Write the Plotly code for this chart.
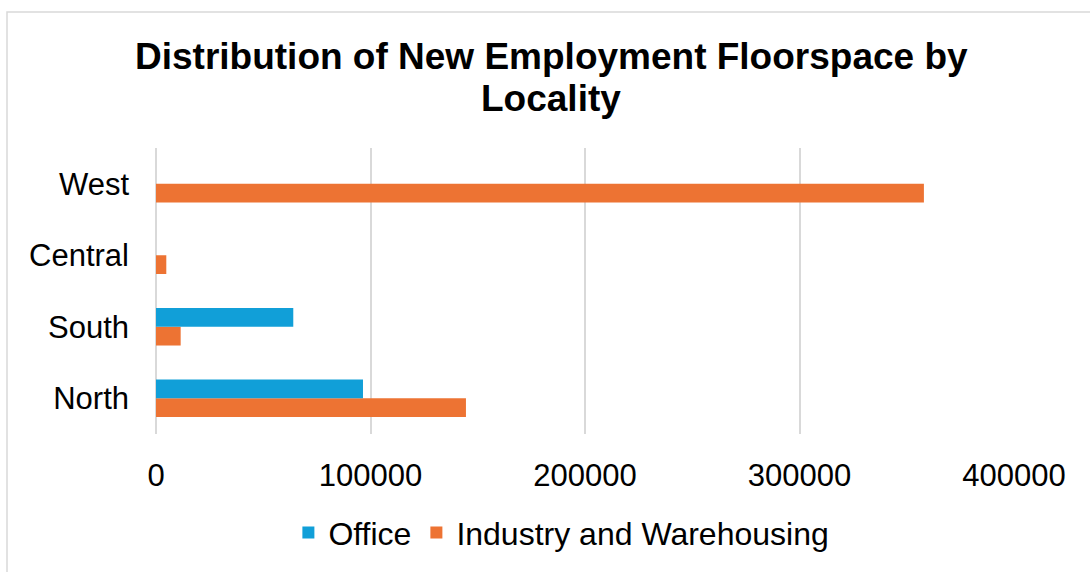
import plotly.graph_objects as go

categories = ["North", "South", "Central", "West"]
office = [96500, 64000, 0, 0]
industry = [144500, 11500, 4800, 358000]
x_ticks = [0, 100000, 200000, 300000, 400000]
title_lines = ["Distribution of New Employment Floorspace by", "Locality"]

W, H = 1090, 572
ml, mr, mt, mb = 156, 76, 148, 134
pw, ph = W - ml - mr, H - mt - mb

def px_x(p):
    return (p - ml) / pw

def px_y(p):
    return (H - mb - p) / ph

fig = go.Figure()
fig.add_trace(go.Bar(
    y=categories, x=industry, orientation="h", name="Industry and Warehousing",
    marker=dict(color="#ED7333", line=dict(width=0)), legendrank=2,
))
fig.add_trace(go.Bar(
    y=categories, x=office, orientation="h", name="Office",
    marker=dict(color="#119FD8", line=dict(width=0)), legendrank=1,
))

font = "Liberation Sans, Arial, sans-serif"
annotations = []
for i, (line, yc) in enumerate(zip(title_lines, [55, 98])):
    annotations.append(dict(
        text="<b>" + line + "</b>", xref="paper", yref="paper",
        x=px_x(551), y=px_y(yc), xanchor="center", yanchor="middle",
        showarrow=False, font=dict(family=font, size=37, color="black"),
    ))

fig.update_layout(
    width=W, height=H,
    margin=dict(l=ml, r=mr, t=mt, b=mb),
    paper_bgcolor="white", plot_bgcolor="white",
    barmode="group", bargap=0.475, bargroupgap=0,
    font=dict(family=font, color="black"),
    xaxis=dict(
        range=[0, 400000], tickvals=x_ticks, ticktext=[str(v) for v in x_ticks],
        showgrid=True, gridcolor="#D9D9D9", gridwidth=2,
        zeroline=True, zerolinecolor="#D9D9D9", zerolinewidth=2,
        tickfont=dict(size=31, color="black"), ticks="", ticklabelstandoff=20,
        fixedrange=True,
    ),
    yaxis=dict(
        categoryorder="array", categoryarray=categories,
        showgrid=False, tickfont=dict(size=31, color="black"), ticks="",
        ticklabelstandoff=26, fixedrange=True,
    ),
    showlegend=True,
    legend=dict(
        orientation="h", x=515 / W, xanchor="center", y=px_y(538), yanchor="middle",
        xref="paper", font=dict(size=32, color="black"),
        itemsizing="constant", itemwidth=30, traceorder="normal",
    ),
    annotations=annotations,
    shapes=[dict(
        type="rect", xref="paper", yref="paper",
        x0=px_x(7), x1=px_x(1100), y0=px_y(585), y1=px_y(10),
        line=dict(color="#D9D9D9", width=1.5), fillcolor="rgba(0,0,0,0)", layer="below",
    )],
)

fig.write_html("out.html")
